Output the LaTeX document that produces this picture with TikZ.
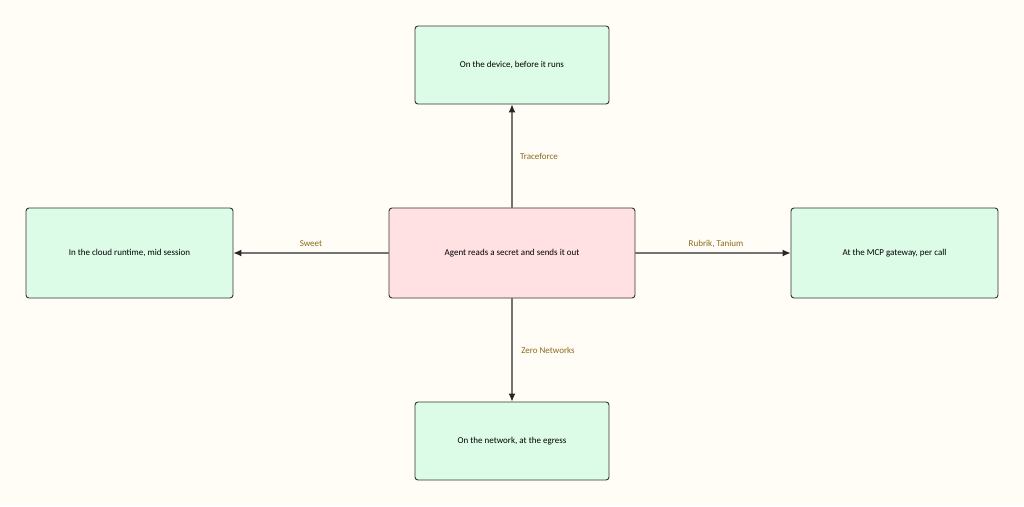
\documentclass[tikz,border=0pt]{standalone}
\usepackage{fontspec}
\setmainfont{Carlito}
\usetikzlibrary{arrows.meta}
\definecolor{bgcream}{HTML}{FFFDF5}
\definecolor{goalgreen}{HTML}{DCFCE7}
\definecolor{threatpink}{HTML}{FFE0E3}
\definecolor{edgebrown}{HTML}{8A6A1E}
\tikzset{
  box/.style = {draw=black!80, line width=0.9pt, rounded corners=3pt,
                fill=goalgreen, font=\fontsize{9}{11}\selectfont,
                inner sep=0pt},
  link/.style = {draw=black!55, line width=1.2pt, -{Latex[length=8pt,width=7pt,color=black!85]}},
  tag/.style = {text=edgebrown, font=\fontsize{9}{11}\selectfont}
}
\begin{document}
\begin{tikzpicture}[x=1pt,y=-1pt]
	\fill[bgcream] (0,0) rectangle (1024,506);
	\useasboundingbox (0,0) rectangle (1024,506);

	% Nodes
	\node[box, fill=threatpink, minimum width=246pt, minimum height=90pt] (agent) at (512,253) {Agent reads a secret and sends it out};
	\node[box, minimum width=194pt, minimum height=78pt] (device) at (512,65) {On the device, before it runs};
	\node[box, minimum width=207pt, minimum height=90pt] (cloud) at (129.5,253) {In the cloud runtime, mid session};
	\node[box, minimum width=207pt, minimum height=90pt] (gateway) at (894.5,253) {At the MCP gateway, per call};
	\node[box, minimum width=194pt, minimum height=78pt] (network) at (512,441) {On the network, at the egress};

	% Links
	\draw[link] (agent) -- (device);
	\draw[link] (agent) -- (cloud);
	\draw[link] (agent) -- (gateway);
	\draw[link] (agent) -- (network);

	% Labels
	\node[tag] (lbtrace) at (539,156) {Traceforce};
	\node[tag] (lbsweet) at (311,244) {Sweet};
	\node[tag] (lbrubrik) at (716,244) {Rubrik, Tanium};
	\node[tag] (lbzero) at (548,350) {Zero Networks};
\end{tikzpicture}
\end{document}
